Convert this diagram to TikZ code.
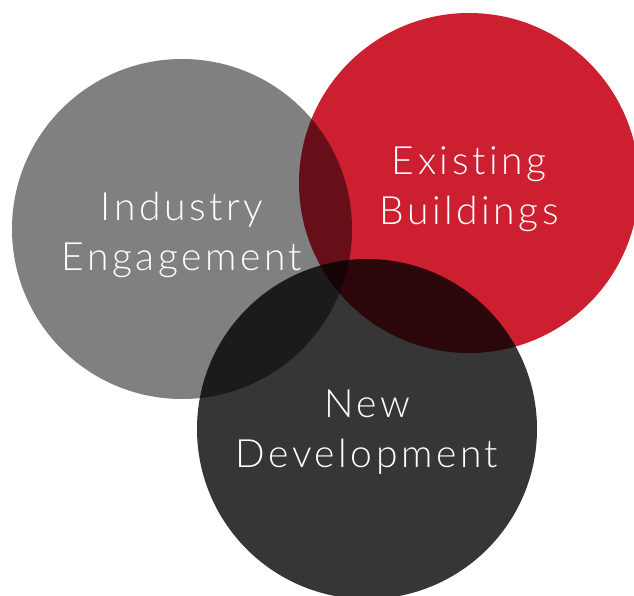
\documentclass[tikz,border=0pt]{standalone}
\usepackage{fontspec}
\newfontfamily\venfont{Lato Light}[LetterSpace=9, Ligatures={NoCommon}]
\usetikzlibrary{positioning}
\definecolor{indgray}{RGB}{128,128,128}
\definecolor{exred}{RGB}{204,31,48}
\definecolor{devdark}{RGB}{54,54,54}

\begin{document}
\begin{tikzpicture}[x=1pt, y=-1pt,
		disc/.style={circle, draw=none, inner sep=0pt, minimum size=340pt},
		caption/.style={text=white, align=center, font=\venfont\fontsize{39}{50}\selectfont}]
		%%%%% CIRCLES %%%%%
		\useasboundingbox (0, 0) rectangle (634, 596);
		\begin{scope}[blend group=multiply]
			\node[disc, fill=indgray] (industry) at (182, 229) {};
			\node[disc, fill=exred] (existing) at (469, 183) {};
			\node[disc, fill=devdark] (newdev) at (367, 429) {};
		\end{scope}
		
		%%%%% LABELS %%%%%
		\node[caption] (industrytext) at ([yshift=-6pt]industry.center) {Industry\\Engagement};
		\node[caption] (existingtext) at ([yshift=-6pt]existing.center) {Existing\\Buildings};
		\node[caption] (newdevtext) at ([yshift=-3pt]newdev.center) {New\\Development};
	\end{tikzpicture}
\end{document}
